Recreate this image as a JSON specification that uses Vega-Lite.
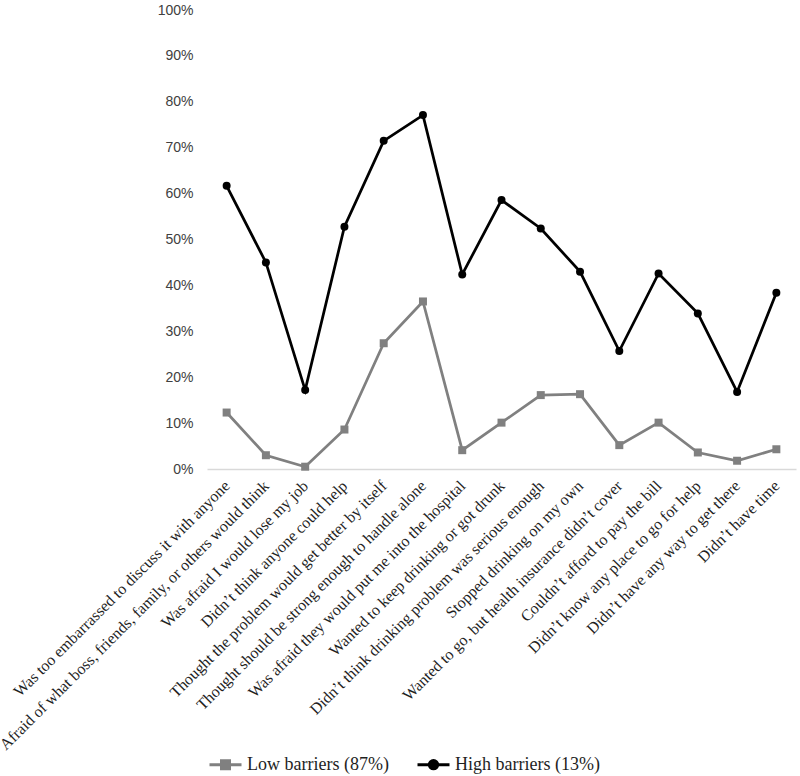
{
  "$schema": "https://vega.github.io/schema/vega-lite/v6.json",
  "autosize": {"type": "none"},
  "width": 589,
  "height": 459,
  "padding": {"left": 207, "top": 10, "right": 4, "bottom": 307},
  "background": "white",
  "config": {"view": {"stroke": null}},
  "data": {
    "values": [
      {"reason": "Was too embarrassed to discuss it with anyone", "group": "Low barriers (87%)", "value": 0.123},
      {"reason": "Afraid of what boss, friends, family, or others would think", "group": "Low barriers (87%)", "value": 0.030},
      {"reason": "Was afraid I would lose my job", "group": "Low barriers (87%)", "value": 0.005},
      {"reason": "Didn’t think anyone could help", "group": "Low barriers (87%)", "value": 0.086},
      {"reason": "Thought the problem would get better by itself", "group": "Low barriers (87%)", "value": 0.274},
      {"reason": "Thought should be strong enough to handle alone", "group": "Low barriers (87%)", "value": 0.365},
      {"reason": "Was afraid they would put me into the hospital", "group": "Low barriers (87%)", "value": 0.041},
      {"reason": "Wanted to keep drinking or got drunk", "group": "Low barriers (87%)", "value": 0.101},
      {"reason": "Didn’t think drinking problem was serious enough", "group": "Low barriers (87%)", "value": 0.161},
      {"reason": "Stopped drinking on my own", "group": "Low barriers (87%)", "value": 0.163},
      {"reason": "Wanted to go, but health insurance didn’t cover", "group": "Low barriers (87%)", "value": 0.052},
      {"reason": "Couldn’t afford to pay the bill", "group": "Low barriers (87%)", "value": 0.101},
      {"reason": "Didn’t know any place to go for help", "group": "Low barriers (87%)", "value": 0.036},
      {"reason": "Didn’t have any way to get there", "group": "Low barriers (87%)", "value": 0.018},
      {"reason": "Didn’t have time", "group": "Low barriers (87%)", "value": 0.043},
      {"reason": "Was too embarrassed to discuss it with anyone", "group": "High barriers (13%)", "value": 0.617},
      {"reason": "Afraid of what boss, friends, family, or others would think", "group": "High barriers (13%)", "value": 0.450},
      {"reason": "Was afraid I would lose my job", "group": "High barriers (13%)", "value": 0.172},
      {"reason": "Didn’t think anyone could help", "group": "High barriers (13%)", "value": 0.528},
      {"reason": "Thought the problem would get better by itself", "group": "High barriers (13%)", "value": 0.715},
      {"reason": "Thought should be strong enough to handle alone", "group": "High barriers (13%)", "value": 0.771},
      {"reason": "Was afraid they would put me into the hospital", "group": "High barriers (13%)", "value": 0.424},
      {"reason": "Wanted to keep drinking or got drunk", "group": "High barriers (13%)", "value": 0.586},
      {"reason": "Didn’t think drinking problem was serious enough", "group": "High barriers (13%)", "value": 0.524},
      {"reason": "Stopped drinking on my own", "group": "High barriers (13%)", "value": 0.430},
      {"reason": "Wanted to go, but health insurance didn’t cover", "group": "High barriers (13%)", "value": 0.257},
      {"reason": "Couldn’t afford to pay the bill", "group": "High barriers (13%)", "value": 0.426},
      {"reason": "Didn’t know any place to go for help", "group": "High barriers (13%)", "value": 0.339},
      {"reason": "Didn’t have any way to get there", "group": "High barriers (13%)", "value": 0.168},
      {"reason": "Didn’t have time", "group": "High barriers (13%)", "value": 0.384}
    ]
  },
  "encoding": {
    "x": {
      "field": "reason", "type": "nominal", "sort": null, "title": null,
      "axis": {
        "labelAngle": -45, "labelAlign": "right", "labelBaseline": "middle",
        "labelFont": "Liberation Serif", "labelFontSize": 16, "labelColor": "#1f1f1f",
        "labelLimit": 600, "labelPadding": 14, "ticks": false,
        "domainColor": "#d9d9d9", "domainWidth": 1.5, "labelOverlap": false
      }
    },
    "y": {
      "field": "value", "type": "quantitative", "title": null,
      "scale": {"domain": [0, 1], "nice": false},
      "axis": {
        "values": [0, 0.1, 0.2, 0.3, 0.4, 0.5, 0.6, 0.7, 0.8, 0.9, 1],
        "format": ".0%", "domain": false, "ticks": false, "grid": false,
        "labelFont": "Liberation Sans", "labelFontSize": 14, "labelColor": "#404040",
        "labelPadding": 14
      }
    },
    "color": {
      "field": "group", "type": "nominal", "title": null,
      "scale": {"domain": ["Low barriers (87%)", "High barriers (13%)"], "range": ["#808080", "#000000"]},
      "legend": {
        "orient": "none", "legendX": 1, "legendY": 737, "direction": "horizontal",
        "padding": 0, "symbolSize": 1024, "symbolStrokeWidth": 3,
        "labelFont": "Liberation Serif", "labelFontSize": 18, "labelColor": "#1f1f1f",
        "labelOffset": 4, "columnPadding": 22, "labelLimit": 300,
        "encode": {
          "symbols": {
            "update": {
              "shape": {"signal": "datum.value === 'Low barriers (87%)' ? 'M-1,0H1M-0.25,-0.25H0.25V0.25H-0.25Z' : 'M-1,0H1M0.26,0A0.26,0.26,0,1,1,-0.26,0A0.26,0.26,0,1,1,0.26,0Z'"},
              "fill": {"signal": "datum.value === 'Low barriers (87%)' ? '#808080' : '#000000'"},
              "stroke": {"signal": "datum.value === 'Low barriers (87%)' ? '#808080' : '#000000'"},
              "strokeWidth": {"value": 3},
              "opacity": {"value": 1}
            }
          }
        }
      }
    }
  },
  "layer": [
    {"mark": {"type": "line", "strokeWidth": 2.75}},
    {
      "transform": [{"filter": "datum.group === 'Low barriers (87%)'"}],
      "mark": {"type": "point", "filled": true, "opacity": 1, "size": 64, "shape": "square"}
    },
    {
      "transform": [{"filter": "datum.group === 'High barriers (13%)'"}],
      "mark": {"type": "point", "filled": true, "opacity": 1, "size": 64, "shape": "circle"}
    }
  ]
}
